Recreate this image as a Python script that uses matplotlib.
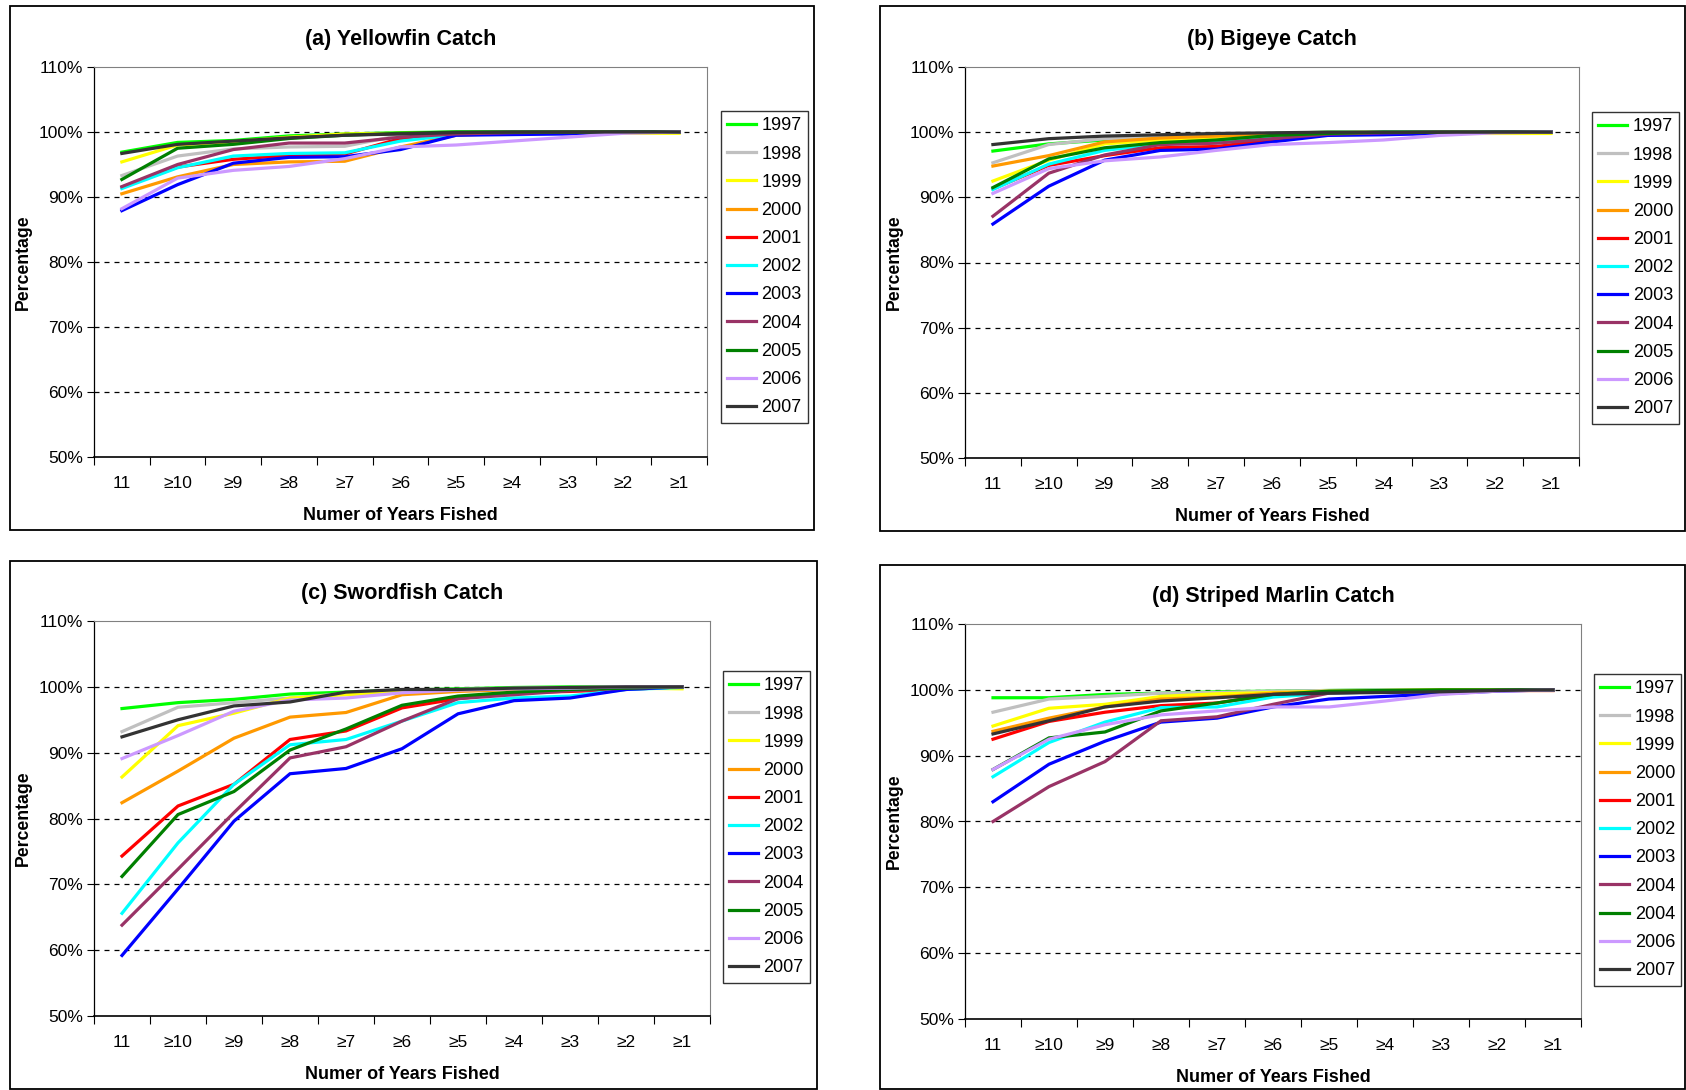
import matplotlib.pyplot as plt
from matplotlib.patches import Rectangle
from matplotlib.ticker import FixedLocator, PercentFormatter

plt.rcParams['font.family'] = ['Liberation Sans Narrow', 'Liberation Sans', 'DejaVu Sans']

categories = ['11', '≥10', '≥9', '≥8', '≥7', '≥6', '≥5', '≥4', '≥3', '≥2', '≥1']
years = ['1997', '1998', '1999', '2000', '2001', '2002', '2003', '2004', '2005', '2006', '2007']
# panel (d) legend repeats 2004 for the 2005 series
years_d = ['1997', '1998', '1999', '2000', '2001', '2002', '2003', '2004', '2004', '2006', '2007']
colors = ['#00FF00', '#C0C0C0', '#FFFF00', '#FF9900', '#FF0000', '#00FFFF',
          '#0000FF', '#993366', '#008000', '#CC99FF', '#333333']

# cumulative % of catch, one row per year (1997..2007)
yellowfin = [
    [96.9, 98.4, 98.7, 99.4, 99.7, 99.9, 100, 100, 100, 100, 100],
    [93.3, 96.3, 97.4, 97.7, 97.8, 99.5, 99.8, 100, 100, 100, 100],
    [95.4, 98.0, 98.5, 99.2, 99.7, 99.8, 99.9, 99.9, 99.9, 99.8, 99.8],
    [90.5, 93.1, 95.0, 95.4, 95.5, 97.7, 99.5, 99.8, 99.9, 100, 100],
    [91.5, 94.6, 95.8, 96.4, 96.6, 99.0, 99.6, 99.8, 99.9, 100, 100],
    [91.3, 94.5, 96.3, 96.7, 96.8, 98.6, 99.6, 99.8, 99.9, 100, 100],
    [87.9, 91.9, 95.2, 96.1, 96.2, 97.3, 99.5, 99.6, 99.7, 100, 100],
    [91.6, 95.0, 97.3, 98.3, 98.3, 99.2, 99.7, 99.9, 100, 100, 100],
    [92.7, 97.5, 98.1, 99.0, 99.5, 99.8, 100, 100, 100, 100, 100],
    [88.2, 92.9, 94.1, 94.7, 95.9, 97.7, 98.0, 98.6, 99.2, 99.8, 100],
    [96.7, 98.1, 98.6, 99.1, 99.5, 99.7, 99.9, 100, 100, 100, 100],
]

bigeye = [
    [97.1, 98.2, 98.8, 99.3, 99.6, 99.8, 100, 100, 100, 100, 100],
    [95.3, 98.1, 99.0, 99.2, 99.5, 99.7, 99.9, 100, 100, 100, 100],
    [92.5, 95.7, 98.2, 98.8, 99.1, 99.5, 99.8, 99.8, 99.8, 99.8, 99.8],
    [94.8, 96.4, 98.5, 99.1, 99.4, 99.7, 99.9, 100, 100, 100, 100],
    [91.3, 94.9, 96.4, 97.6, 97.8, 98.8, 99.7, 99.9, 100, 100, 100],
    [91.2, 95.1, 97.2, 98.2, 98.6, 99.3, 99.8, 100, 100, 100, 100],
    [85.9, 91.7, 95.7, 97.2, 97.4, 98.5, 99.5, 99.6, 99.8, 100, 100],
    [87.1, 93.7, 96.5, 98.1, 98.3, 99.0, 99.7, 99.9, 100, 100, 100],
    [91.5, 95.9, 97.6, 98.4, 98.8, 99.5, 99.8, 100, 100, 100, 100],
    [90.6, 94.4, 95.6, 96.2, 97.2, 98.1, 98.4, 98.8, 99.5, 99.9, 100],
    [98.1, 99.0, 99.4, 99.6, 99.8, 99.9, 100, 100, 100, 100, 100],
]

swordfish = [
    [96.7, 97.6, 98.1, 98.9, 99.2, 99.5, 99.7, 99.9, 100, 100, 100],
    [93.2, 96.9, 97.6, 98.3, 99.0, 99.3, 99.6, 99.8, 99.9, 100, 100],
    [86.3, 94.1, 96.0, 98.3, 98.8, 99.2, 99.5, 99.7, 99.8, 99.8, 99.7],
    [82.4, 87.2, 92.2, 95.4, 96.1, 98.8, 99.3, 99.6, 99.8, 99.9, 100],
    [74.3, 81.9, 85.2, 92.0, 93.3, 96.8, 98.2, 99.1, 99.3, 99.6, 100],
    [65.6, 76.3, 85.2, 91.2, 92.0, 94.8, 97.6, 98.3, 98.6, 99.6, 99.9],
    [59.2, 69.3, 79.6, 86.8, 87.6, 90.6, 95.9, 97.9, 98.3, 99.6, 100],
    [63.8, 72.3, 80.9, 89.2, 90.9, 94.8, 98.2, 98.8, 99.4, 99.8, 100],
    [71.2, 80.6, 84.1, 90.4, 93.6, 97.2, 98.6, 99.2, 99.6, 99.8, 100],
    [89.1, 92.6, 96.3, 98.0, 98.3, 99.1, 99.5, 99.7, 99.8, 100, 100],
    [92.4, 95.0, 97.1, 97.7, 99.2, 99.6, 99.6, 99.8, 99.9, 100, 100],
]

marlin = [
    [98.8, 98.8, 99.3, 99.5, 99.7, 99.8, 99.9, 100, 100, 100, 100],
    [96.6, 98.6, 99.0, 99.5, 99.6, 99.8, 99.9, 100, 100, 100, 100],
    [94.5, 97.2, 97.8, 99.0, 99.4, 99.6, 99.8, 99.9, 100, 100, 100],
    [93.7, 95.7, 97.4, 98.6, 98.9, 99.5, 99.7, 99.8, 99.9, 99.9, 99.9],
    [92.5, 95.2, 96.6, 97.6, 98.0, 99.3, 99.6, 99.7, 99.8, 99.9, 99.9],
    [86.8, 92.0, 95.1, 97.3, 97.4, 98.9, 99.5, 99.7, 99.8, 99.9, 100],
    [83.0, 88.7, 92.2, 95.1, 95.7, 97.4, 98.6, 99.0, 99.4, 99.8, 100],
    [80.0, 85.3, 89.1, 95.3, 95.9, 97.8, 99.5, 99.7, 99.8, 99.9, 100],
    [87.9, 92.7, 93.6, 96.8, 98.0, 99.3, 99.8, 99.9, 100, 100, 100],
    [87.9, 92.5, 94.7, 96.2, 96.8, 97.4, 97.4, 98.3, 99.3, 99.8, 100],
    [93.3, 95.3, 97.4, 98.3, 98.8, 99.3, 99.5, 99.6, 99.7, 99.9, 100],
]

W, H = 1686, 1090
fig = plt.figure(figsize=(W / 100, H / 100), dpi=100)


def fx(px):
    return px / W


def fy(py):
    return 1 - py / H


# (data, title, legend labels, plot box px, outer frame px, legend top-left px)
panels = [
    (yellowfin, '(a) Yellowfin Catch', years, (94, 67, 707, 457), (10, 6, 814, 530), (721, 111)),
    (bigeye, '(b) Bigeye Catch', years, (965, 67, 1579, 458), (880, 6, 1685, 531), (1592, 112)),
    (swordfish, '(c) Swordfish Catch', years, (94, 621, 710, 1016), (10, 561, 817, 1089), (723, 671)),
    (marlin, '(d) Striped Marlin Catch', years_d, (965, 624, 1581, 1019), (880, 565, 1685, 1089), (1594, 674)),
]

x = list(range(len(categories)))

for data, title, labels, (l, t, r, b), (ol, ot, orr, ob), (lx, ly) in panels:
    fig.patches.append(Rectangle((fx(ol), fy(ob)), fx(orr - ol), (ob - ot) / H,
                                 transform=fig.transFigure, fill=False,
                                 edgecolor='black', lw=1.3, zorder=0))

    ax = fig.add_axes([fx(l), fy(b), fx(r - l), (b - t) / H])
    for vals, lab, c in zip(data, labels, colors):
        ax.plot(x, vals, color=c, lw=2.3, label=lab, solid_joinstyle='miter')

    ax.set_xlim(-0.5, len(categories) - 0.5)
    ax.set_ylim(50, 110)
    ax.set_yticks(range(50, 111, 10))
    ax.yaxis.set_major_formatter(PercentFormatter(decimals=0))
    for yv in range(60, 101, 10):
        ax.axhline(yv, color='black', lw=0.9, ls=(0, (4, 4)), zorder=0.5)

    # category labels sit between the tick marks
    ax.xaxis.set_major_locator(FixedLocator([i - 0.5 for i in range(len(categories) + 1)]))
    ax.xaxis.set_minor_locator(FixedLocator(x))
    ax.set_xticklabels([])
    ax.set_xticklabels(categories, minor=True)
    ax.tick_params(axis='x', which='major', length=6, direction='out', width=0.8)
    ax.tick_params(axis='x', which='minor', length=0, pad=14, labelsize=12.5)
    ax.tick_params(axis='y', length=5, direction='out', width=0.8, labelsize=12.5, pad=3)

    for side in ('top', 'right'):
        ax.spines[side].set_color('#808080')
    ax.spines['left'].set_linewidth(0.9)
    ax.spines['bottom'].set_linewidth(1.2)

    ax.set_title(title, fontsize=15.5, fontweight='bold', pad=16)
    ax.set_xlabel('Numer of Years Fished', fontsize=13, fontweight='bold', labelpad=11)
    ax.set_ylabel('Percentage', fontsize=12.7, fontweight='bold', labelpad=5)

    ax.legend(loc='upper left', bbox_to_anchor=(fx(lx), fy(ly)), bbox_transform=fig.transFigure,
              frameon=True, fancybox=False, edgecolor='black', fontsize=13,
              handlelength=1.6, handletextpad=0.3, labelspacing=0.62,
              borderpad=0.35, borderaxespad=0)
    ax.get_legend().get_frame().set_linewidth(1.0)

fig.savefig('out.png', dpi=100)
